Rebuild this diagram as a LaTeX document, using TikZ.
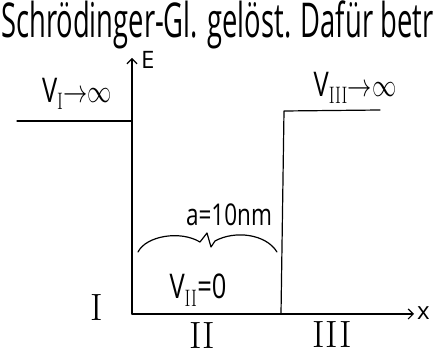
\documentclass[tikz,border=0pt]{standalone}
\usepackage{fontspec}
\setsansfont{Open Sans}
\usetikzlibrary{positioning, arrows.meta}
\newcommand{\hw}[1]{\scalebox{0.75}[1]{#1}}
\newcommand{\toinf}{\scalebox{1.3}{${\to}\infty$}}
\tikzset{
    hand/.style={line width=1.2pt, line cap=round, line join=round},
    axis/.style={hand, -{Straight Barb[length=5pt, width=10pt]}},
    lbl/.style={inner sep=0pt, font=\sffamily\fontsize{34}{36}\selectfont},
    small/.style={inner sep=0pt, font=\sffamily\fontsize{24}{26}\selectfont},
    region/.style={inner sep=0pt, font=\rmfamily\fontsize{38}{40}\selectfont}
}

\begin{document}
\begin{tikzpicture}[x=1pt, y=-1pt]
\useasboundingbox (0,0) rectangle (440,363);
\node[anchor=base west, inner sep=0pt, font=\sffamily\fontsize{48}{50}\selectfont] (head) at (1,38)
    {\scalebox{0.57}[1]{Schrödinger-Gl. gelöst. Dafür betr}};

\coordinate (O) at (132,314);
\coordinate (Etip) at (132,58);
\coordinate (Xtip) at (414,314);
\coordinate (L) at (17,121);
\coordinate (Lwall) at (132,121);
\coordinate (Rfoot) at (281,314);
\coordinate (Rtop) at (284,111);
\coordinate (R) at (380,110);
\coordinate (bL) at (138,252);
\coordinate (bM) at (207,233);
\coordinate (bR) at (277,252);

\draw[axis] (O) -- (Etip);
\draw[axis] (O) -- (Xtip);
\draw[hand] (L) -- (Lwall);
\draw[hand] (Rfoot) -- (Rtop) -- (R);
\draw[hand] (bL) .. controls (146,236) and (180,230) .. (200,242) -- (bM) -- (211,247) -- (215,241)
    .. controls (235,230) and (266,234) .. (bR);

\node[small, anchor=west] (E) at (141,60) {E};
\node[small, anchor=west] (x) at (417,313) {x};
\node[lbl] (VI) at (77,94) {\hw{V\textsubscript{\rmfamily I}\toinf}};
\node[lbl] (VIII) at (355,88) {\hw{V\textsubscript{\rmfamily III}\toinf}};
\node[lbl, font=\sffamily\fontsize{30}{32}\selectfont] (a) at (229,215) {\hw{a=10nm}};
\node[lbl] (VII) at (198,290) {\hw{V\textsubscript{\rmfamily II}=0}};
\node[region] (rI) at (97,308) {I};
\node[region] (rII) at (202,336) {II};
\node[region] (rIII) at (332,335) {III};
\end{tikzpicture}
\end{document}
